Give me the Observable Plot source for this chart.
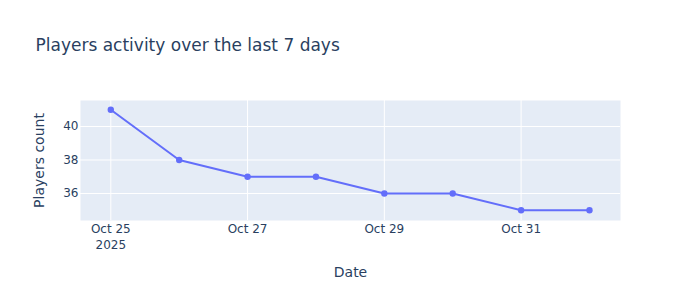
<!DOCTYPE html>
<html>
<head>
<meta charset="utf-8">
<script src="https://cdn.jsdelivr.net/npm/d3@7"></script>
<script src="https://cdn.jsdelivr.net/npm/@observablehq/plot@0.6"></script>
<style>
  html, body { margin: 0; padding: 0; background: #fff; }
  #chart svg { font-family: "DejaVu Sans", Verdana, sans-serif; }
</style>
</head>
<body>
<div id="chart"></div>
<script>
const dates = ["2025-10-25", "2025-10-26", "2025-10-27", "2025-10-28", "2025-10-29", "2025-10-30", "2025-10-31", "2025-11-01"];
const players = [41, 38, 37, 37, 36, 36, 35, 35];
const xTicks = ["2025-10-25", "2025-10-27", "2025-10-29", "2025-10-31"];
const xTickLabels = ["Oct 25\n2025", "Oct 27", "Oct 29", "Oct 31"];
const yTicks = [36, 38, 40];
const title = "Players activity over the last 7 days";
const xLabel = "Date";
const yLabel = "Players count";

const parse = d3.utcParse("%Y-%m-%d");
const data = dates.map((d, i) => ({date: parse(d), count: players[i]}));
const xt = xTicks.map(parse);
const labelMap = new Map(xt.map((d, i) => [+d, xTickLabels[i]]));

const ink = "#2a3f5f";
const chart = Plot.plot({
  width: 700,
  height: 300,
  marginLeft: 80,
  marginRight: 80,
  marginTop: 100,
  marginBottom: 80,
  style: {fontFamily: '"DejaVu Sans", Verdana, sans-serif', fontSize: "12px", color: ink, background: "#fff"},
  x: {type: "utc", domain: [new Date(Date.UTC(2025, 9, 24, 13, 22)), new Date(Date.UTC(2025, 10, 1, 10, 53))]},
  y: {domain: [34.39, 41.55]},
  marks: [
    Plot.frame({fill: "#E5ECF6", stroke: null}),
    Plot.gridX(xt, {stroke: "#fff", strokeOpacity: 1, strokeWidth: 1}),
    Plot.gridY(yTicks, {stroke: "#fff", strokeOpacity: 1, strokeWidth: 1}),
    Plot.axisX(xt, {tickSize: 0, tickPadding: 1, tickFormat: d => labelMap.get(+d), lineHeight: 1.33, fill: ink, label: null}),
    Plot.axisY(yTicks, {tickSize: 0, tickPadding: 2, fill: ink, label: null}),
    Plot.line(data, {x: "date", y: "count", stroke: "#636efa", strokeWidth: 2}),
    Plot.dot(data, {x: "date", y: "count", fill: "#636efa", r: 3.2}),
    Plot.text([title], {frameAnchor: "top-left", dx: -45, dy: -50, text: d => d, fontSize: 17, fill: ink, textAnchor: "start", lineAnchor: "bottom"}),
    Plot.text([xLabel], {frameAnchor: "bottom", dy: 56, text: d => d, fontSize: 14, fill: ink, lineAnchor: "bottom"}),
    Plot.text([yLabel], {frameAnchor: "left", dx: -41, text: d => d, fontSize: 14, fill: ink, rotate: -90, textAnchor: "middle"})
  ]
});
document.getElementById("chart").appendChild(chart);
</script>
</body>
</html>
